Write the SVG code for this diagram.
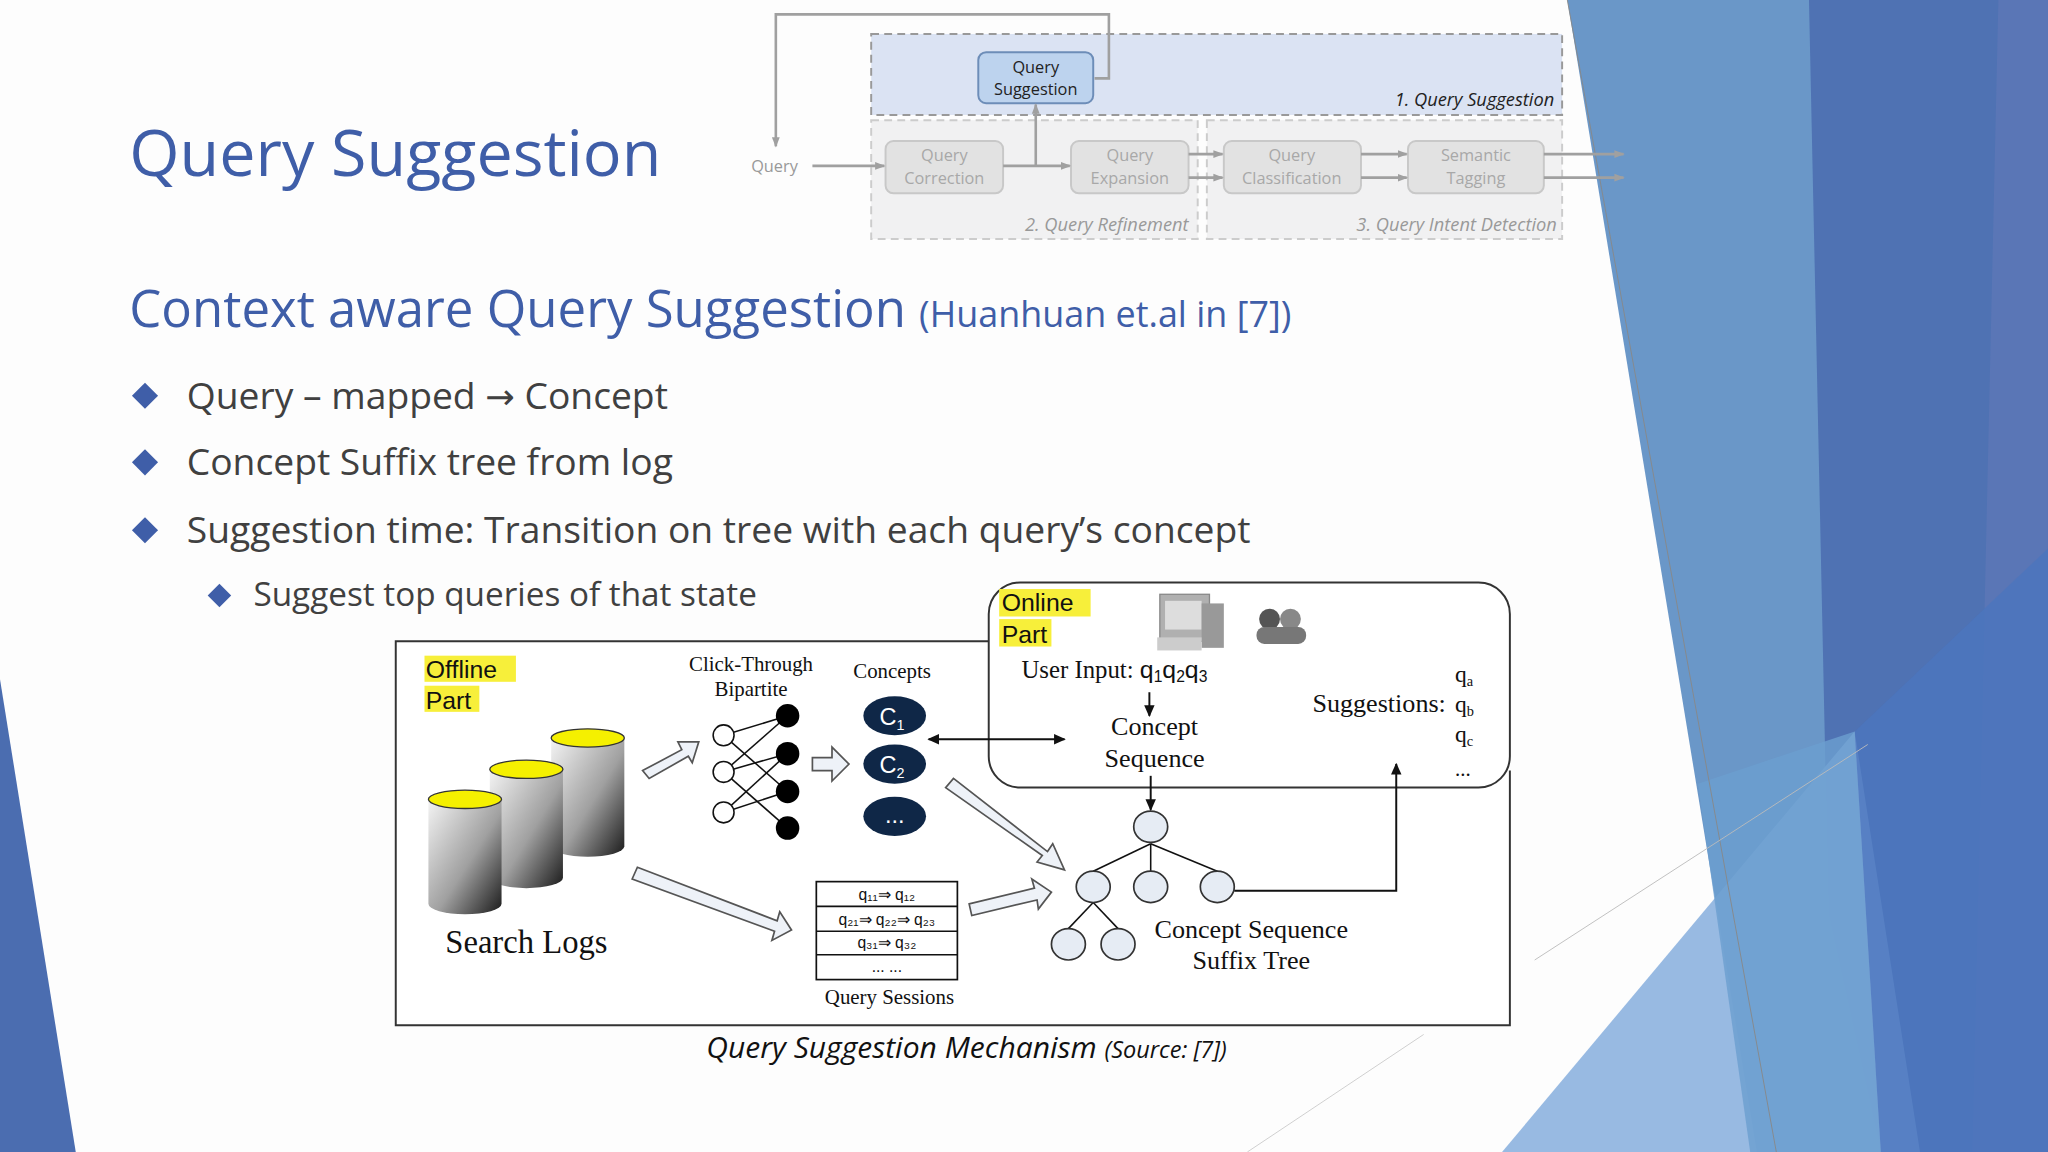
<svg xmlns="http://www.w3.org/2000/svg" width="2048" height="1152" viewBox="0 0 2048 1152">
<defs>
<style>
.t{font-family:"Open Sans","Noto Sans",sans-serif}
.s{font-family:"Liberation Serif",serif;fill:#111}
.a{font-family:"Liberation Sans",Arial,sans-serif;fill:#111}
.gb{fill:#e2e2e2;stroke:#c8c8c8;stroke-width:1.5}
.gt{font-family:"Open Sans",sans-serif;font-size:12.5px;fill:#a8a8a8;text-anchor:middle}
.gl{stroke:#a0a0a0;stroke-width:2;fill:none}
.bl{stroke:#111;stroke-width:1.5;fill:none}
.ho{fill:#eef2f8;stroke:#555;stroke-width:1.3}
.tn{fill:#e6ecf4;stroke:#333;stroke-width:1.3}
</style>
<marker id="ga" markerWidth="8" markerHeight="8" refX="7" refY="4" orient="auto" markerUnits="userSpaceOnUse"><path d="M0,1 L8,4 L0,7 z" fill="#a0a0a0"/></marker>
<marker id="ba" markerWidth="9" markerHeight="9" refX="8" refY="4.5" orient="auto-start-reverse" markerUnits="userSpaceOnUse"><path d="M0,0.5 L9,4.5 L0,8.5 z" fill="#111"/></marker>
<linearGradient id="cyl" x1="0" x2="1" y1="0" y2="1"><stop offset="0" stop-color="#f4f4f4"/><stop offset="0.55" stop-color="#a0a0a0"/><stop offset="1" stop-color="#1a1a1a"/></linearGradient>
</defs>
<rect width="2048" height="1152" fill="#fdfdfd"/>
<g transform="scale(1.306122)">
<g id="bg">
<polygon points="1200,0 1568,0 1568,882 1345,882" fill="#6a97c8"/>
<polygon points="1385,0 1540,0 1568,120 1568,882 1440,882 1400,700" fill="#4f72b3"/>
<polygon points="1530,0 1568,0 1568,882 1510,882" fill="#5a76b6"/>
<polygon points="1150,882 1420,560 1470,882" fill="#8db3df" opacity="0.9"/>
<polygon points="1300,600 1420,560 1440,882 1340,882" fill="#6b9fd0" opacity="0.8"/>
<polygon points="1420,560 1568,420 1568,882 1440,882" fill="#4b76be" opacity="0.8"/>
<polygon points="0,520 58,882 0,882" fill="#4b6db0"/>
<line x1="1200" y1="0" x2="1360" y2="882" stroke="#888" stroke-width="0.7"/>
<line x1="1175" y1="735" x2="1430" y2="570" stroke="#bbb" stroke-width="0.7"/>
<line x1="955" y1="882" x2="1090" y2="792" stroke="#ccc" stroke-width="0.7"/>
</g>
<text class="t" x="99" y="135" font-size="49.5" fill="#3f5ea8">Query Suggestion</text>
<text class="t" x="99" y="250" font-size="39" fill="#3f5ea8">Context aware Query Suggestion <tspan font-size="27.5">(Huanhuan et.al in [7])</tspan></text>
<g fill="#3f5ea8">
<polygon points="111,293 121,303 111,313 101,303"/>
<polygon points="111,344 121,354 111,364 101,354"/>
<polygon points="111,396 121,406 111,416 101,406"/>
<polygon points="168,447 177,456 168,465 159,456"/>
</g>
<g class="t" fill="#404040">
<text x="143" y="313" font-size="28.5">Query – mapped <tspan font-family="DejaVu Sans" font-size="27">→</tspan> Concept</text>
<text x="143" y="364" font-size="28.5">Concept Suffix tree from log</text>
<text x="143" y="416" font-size="28.5">Suggestion time: Transition on tree with each query’s concept</text>
<text x="194" y="464" font-size="25.5">Suggest top queries of that state</text>
</g>
<g id="topdiag">
<rect x="667" y="26" width="529" height="62" fill="#dbe3f3" stroke="#999" stroke-width="1.5" stroke-dasharray="6,4"/>
<rect x="667" y="92" width="250" height="91" fill="#f1f1f2" stroke="#ccc" stroke-width="1.5" stroke-dasharray="6,4"/>
<rect x="924" y="92" width="272" height="91" fill="#f1f1f2" stroke="#ccc" stroke-width="1.5" stroke-dasharray="6,4"/>
<text x="1190" y="81" font-family="Open Sans,sans-serif" font-style="italic" font-size="14" fill="#222" text-anchor="end">1. Query Suggestion</text>
<text x="910" y="177" font-family="Open Sans,sans-serif" font-style="italic" font-size="14" fill="#999" text-anchor="end">2. Query Refinement</text>
<text x="1192" y="177" font-family="Open Sans,sans-serif" font-style="italic" font-size="14" fill="#999" text-anchor="end">3. Query Intent Detection</text>
<g id="qs"><rect x="749" y="40" width="88" height="39" rx="6" fill="#bdd3ee" stroke="#6d8db8" stroke-width="1.5"/>
<text x="793" y="56" font-family="Open Sans,sans-serif" font-size="12.5" fill="#222" text-anchor="middle">Query</text>
<text x="793" y="73" font-family="Open Sans,sans-serif" font-size="12.5" fill="#222" text-anchor="middle">Suggestion</text></g>
<g id="qc"><rect class="gb" x="678" y="108" width="90" height="40" rx="6"/><text class="gt" x="723" y="123">Query</text><text class="gt" x="723" y="141">Correction</text></g>
<g id="qe"><rect class="gb" x="820" y="108" width="90" height="40" rx="6"/><text class="gt" x="865" y="123">Query</text><text class="gt" x="865" y="141">Expansion</text></g>
<g id="qcl"><rect class="gb" x="937" y="108" width="105" height="40" rx="6"/><text class="gt" x="989" y="123">Query</text><text class="gt" x="989" y="141">Classification</text></g>
<g id="st"><rect class="gb" x="1078" y="108" width="104" height="40" rx="6"/><text class="gt" x="1130" y="123">Semantic</text><text class="gt" x="1130" y="141">Tagging</text></g>
<text x="593" y="132" font-family="Open Sans,sans-serif" font-size="12.5" fill="#999" text-anchor="middle">Query</text>
<g id="topconn">
<polyline class="gl" points="838,60 849,60 849,11 594,11 594,112" marker-end="url(#ga)"/>
<line class="gl" x1="622" y1="127" x2="677" y2="127" marker-end="url(#ga)"/>
<line class="gl" x1="768" y1="127" x2="819" y2="127" marker-end="url(#ga)"/>
<line class="gl" x1="793" y1="127" x2="793" y2="80" marker-end="url(#ga)"/>
<line class="gl" x1="910" y1="118" x2="936" y2="118" marker-end="url(#ga)"/>
<line class="gl" x1="910" y1="136" x2="936" y2="136" marker-end="url(#ga)"/>
<line class="gl" x1="1042" y1="118" x2="1077" y2="118" marker-end="url(#ga)"/>
<line class="gl" x1="1042" y1="136" x2="1077" y2="136" marker-end="url(#ga)"/>
<line class="gl" x1="1182" y1="118" x2="1243" y2="118" marker-end="url(#ga)"/>
<line class="gl" x1="1182" y1="136" x2="1243" y2="136" marker-end="url(#ga)"/>
</g>
</g>
<g id="frame">
<rect x="303" y="491" width="853" height="294" fill="#fff" stroke="none"/>
<polyline points="757,491 303,491 303,785 1156,785 1156,590" fill="none" stroke="#333" stroke-width="1.5"/>
<rect x="757" y="446" width="399" height="157" rx="24" fill="#fff" stroke="#333" stroke-width="1.5"/>
</g>
<g id="offline">
<rect x="325" y="502" width="70" height="20" fill="#f7ef3a"/><rect x="325" y="525" width="42" height="20" fill="#f7ef3a"/>
<text class="a" x="326" y="519" font-size="19">Offline</text><text class="a" x="326" y="543" font-size="19">Part</text>
</g>
<g id="logs">
<path d="M422,565 L422,648 A28,8 0 0 0 478,648 L478,565 z" fill="url(#cyl)"/><ellipse cx="450" cy="565" rx="28" ry="7" fill="#f5f000" stroke="#333"/>
<path d="M375,589 L375,672 A28,8 0 0 0 431,672 L431,589 z" fill="url(#cyl)"/><ellipse cx="403" cy="589" rx="28" ry="7" fill="#f5f000" stroke="#333"/>
<path d="M328,612 L328,692 A28,8 0 0 0 384,692 L384,612 z" fill="url(#cyl)"/><ellipse cx="356" cy="612" rx="28" ry="7" fill="#f5f000" stroke="#333"/>
<text class="s" x="403" y="730" font-size="25" text-anchor="middle">Search Logs</text>
</g>
<g id="bipartite">
<text class="s" x="575" y="514" font-size="16" text-anchor="middle">Click-Through</text>
<text class="s" x="575" y="533" font-size="16" text-anchor="middle">Bipartite</text>
<g stroke="#111" stroke-width="1.2">
<line x1="554" y1="563" x2="603" y2="548"/><line x1="554" y1="563" x2="603" y2="606"/>
<line x1="554" y1="591" x2="603" y2="548"/><line x1="554" y1="591" x2="603" y2="577"/><line x1="554" y1="591" x2="603" y2="634"/>
<line x1="554" y1="622" x2="603" y2="577"/><line x1="554" y1="622" x2="603" y2="606"/>
</g>
<g fill="#fff" stroke="#111" stroke-width="1.2"><circle cx="554" cy="563" r="8"/><circle cx="554" cy="591" r="8"/><circle cx="554" cy="622" r="8"/></g>
<g fill="#000"><circle cx="603" cy="548" r="9"/><circle cx="603" cy="577" r="9"/><circle cx="603" cy="606" r="9"/><circle cx="603" cy="634" r="9"/></g>
</g>
<g id="concepts">
<text class="s" x="683" y="519" font-size="16" text-anchor="middle">Concepts</text>
<g fill="#0f2747"><ellipse cx="685" cy="548" rx="24" ry="15"/><ellipse cx="685" cy="585" rx="24" ry="15"/><ellipse cx="685" cy="625" rx="24" ry="15"/></g>
<g class="a" font-size="18" text-anchor="middle" style="fill:#fff">
<text x="683" y="555">C<tspan font-size="11" dy="4">1</tspan></text>
<text x="683" y="592">C<tspan font-size="11" dy="4">2</tspan></text>
<text x="685" y="630">...</text></g>
</g>
<g id="sessions">
<rect x="625" y="675" width="108" height="75" fill="#fff" stroke="#111" stroke-width="1.3"/>
<g stroke="#111" stroke-width="1.3"><line x1="625" y1="694" x2="733" y2="694"/><line x1="625" y1="713" x2="733" y2="713"/><line x1="625" y1="731" x2="733" y2="731"/></g>
<g class="a" font-size="12" text-anchor="middle">
<text x="679" y="689">q₁₁⇒ q₁₂</text><text x="679" y="708">q₂₁⇒ q₂₂⇒ q₂₃</text><text x="679" y="726">q₃₁⇒ q₃₂</text><text x="679" y="744">... ...</text></g>
<text class="s" x="681" y="769" font-size="16" text-anchor="middle">Query Sessions</text>
</g>
<g id="online">
<rect x="765" y="451" width="70" height="21" fill="#f7ef3a"/><rect x="765" y="474" width="40" height="21" fill="#f7ef3a"/>
<text class="a" x="767" y="468" font-size="19">Online</text><text class="a" x="767" y="492" font-size="19">Part</text>
<rect x="888" y="455" width="38" height="36" fill="#b0b0b0" stroke="#888"/><rect x="892" y="460" width="28" height="22" fill="#ddd"/><rect x="920" y="462" width="17" height="34" fill="#999"/><rect x="886" y="488" width="34" height="10" fill="#ccc"/>
<circle cx="972" cy="474" r="8" fill="#555"/><circle cx="988" cy="474" r="8" fill="#888"/><rect x="962" y="480" width="38" height="13" rx="6" fill="#777"/>
<text class="s" x="782" y="519" font-size="19">User Input: <tspan class="a" font-size="19">q<tspan font-size="12" dy="3">1</tspan><tspan dy="-3">q</tspan><tspan font-size="12" dy="3">2</tspan><tspan dy="-3">q</tspan><tspan font-size="12" dy="3">3</tspan></tspan></text>
<text class="s" x="884" y="563" font-size="20" text-anchor="middle">Concept</text>
<text class="s" x="884" y="587" font-size="20" text-anchor="middle">Sequence</text>
<text class="s" x="1107" y="545" font-size="20" text-anchor="end">Suggestions:</text>
<text class="s" x="1114" y="522" font-size="18">q<tspan font-size="11" dy="3">a</tspan></text>
<text class="s" x="1114" y="545" font-size="18">q<tspan font-size="11" dy="3">b</tspan></text>
<text class="s" x="1114" y="568" font-size="18">q<tspan font-size="11" dy="3">c</tspan></text>
<text class="s" x="1114" y="594" font-size="16">...</text>
</g>
<g id="tree">
<g stroke="#111" stroke-width="1.2"><line x1="881" y1="646" x2="837" y2="667"/><line x1="881" y1="646" x2="881" y2="667"/><line x1="881" y1="646" x2="932" y2="667"/><line x1="837" y1="691" x2="818" y2="711"/><line x1="837" y1="691" x2="856" y2="711"/></g>
<g class="tn"><ellipse cx="881" cy="633" rx="13" ry="12"/><ellipse cx="837" cy="679" rx="13" ry="12"/><ellipse cx="881" cy="679" rx="13" ry="12"/><ellipse cx="932" cy="679" rx="13" ry="12"/><ellipse cx="818" cy="723" rx="13" ry="12"/><ellipse cx="856" cy="723" rx="13" ry="12"/></g>
<text class="s" x="958" y="718" font-size="20" text-anchor="middle">Concept Sequence</text>
<text class="s" x="958" y="742" font-size="20" text-anchor="middle">Suffix Tree</text>
</g>
<g id="conn">
<line class="bl" x1="880" y1="530" x2="880" y2="548" marker-end="url(#ba)"/>
<line class="bl" x1="881" y1="594" x2="881" y2="620" marker-end="url(#ba)"/>
<line class="bl" x1="711" y1="566" x2="815" y2="566" marker-start="url(#ba)" marker-end="url(#ba)"/>
<polyline class="bl" points="945,682 1069,682 1069,585" marker-end="url(#ba)"/>
<g class="ho">
<path d="M492,590 L522,574 L519,568 L535,568 L530,584 L527,579 L497,596 z"/>
<path d="M622,580 L637,580 L637,572 L650,585 L637,598 L637,590 L622,590 z"/>
<path d="M488,664 L595,705 L597,698 L606,712 L591,720 L593,713 L484,673 z"/>
<path d="M730,596 L802,652 L806,646 L815,666 L794,660 L798,655 L724,603 z"/>
<path d="M742,692 L792,680 L790,673 L805,683 L795,696 L794,689 L744,701 z"/>
</g>
</g>
<text x="740" y="810" font-family="Open Sans,sans-serif" font-style="italic" font-size="23" fill="#111" text-anchor="middle">Query Suggestion Mechanism <tspan font-size="18">(Source: [7])</tspan></text>
</g>
</svg>
